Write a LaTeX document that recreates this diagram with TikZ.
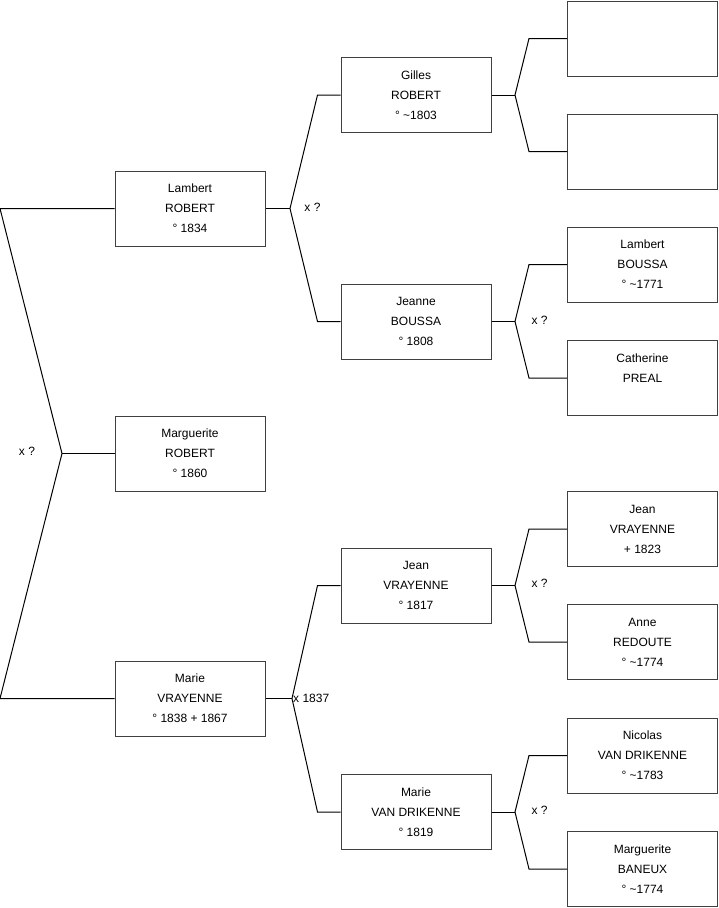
\documentclass[tikz,border=0pt]{standalone}
\usepackage{fontspec}
\setmainfont{Liberation Sans}
\usetikzlibrary{positioning,calc}
\tikzset{
  person/.style={draw=black!75, fill=white, line width=1pt, minimum width=150pt, minimum height=75pt, inner sep=0pt, align=center, font=\fontsize{12}{20}\selectfont},
  link/.style={draw=black, line width=1pt},
  union/.style={font=\fontsize{12}{14}\selectfont, inner sep=0pt}
}

\begin{document}
\begin{tikzpicture}[x=1pt, y=-1pt]
  \useasboundingbox (0,0) rectangle (719,908);

  % generation 1
  \node[person] (lambert) at (190,208.5) {Lambert\\ROBERT\\° 1834};
  \node[person] (marguerite) at (190,453.5) {Marguerite\\ROBERT\\° 1860};
  \node[person] (marie) at (190,698.5) {Marie\\VRAYENNE\\° 1838 + 1867};

  % generation 2
  \node[person] (gilles) at (416,95) {Gilles\\ROBERT\\° \textasciitilde1803};
  \node[person] (jeanne) at (416,321.5) {Jeanne\\BOUSSA\\° 1808};
  \node[person] (jean) at (416,585.5) {Jean\\VRAYENNE\\° 1817};
  \node[person] (mariev) at (416,812) {Marie\\VAN DRIKENNE\\° 1819};

  % generation 3
  \node[person] (e1) at (642.5,38.5) {};
  \node[person] (e2) at (642.5,151.5) {};
  \node[person] (lamberb) at (642.5,264.5) {Lambert\\BOUSSA\\° \textasciitilde1771};
  \node[person] (cather) at (642.5,378) {Catherine\\PREAL\\\mbox{}};
  \node[person] (jeanv) at (642.5,529) {Jean\\VRAYENNE\\+ 1823};
  \node[person] (anne) at (642.5,642) {Anne\\REDOUTE\\° \textasciitilde1774};
  \node[person] (nicolas) at (642.5,755.5) {Nicolas\\VAN DRIKENNE\\° \textasciitilde1783};
  \node[person] (margb) at (642.5,869) {Marguerite\\BANEUX\\° \textasciitilde1774};

  % root fork
  \coordinate (a0) at (0,208.5);
  \coordinate (b0) at (0,698.5);
  \coordinate (j0) at (62,453.5);
  \draw[link] (lambert.west) -- (a0) -- (j0) -- (b0) -- (marie.west);
  \draw[link] (j0) -- (marguerite.west);
  \node[union] (u0) at (27,451.5) {x ?};

  % forks to generation 2
  \coordinate (j1) at (290,208.5);
  \coordinate (j2) at (292,698.5);
  \draw[link] (lambert.east) -- (j1);
  \draw[link] (gilles.west) -- ++(-23,0) -- (j1) -- ($(jeanne.west)+(-23,0)$) -- (jeanne.west);
  \draw[link] (marie.east) -- (j2);
  \draw[link] (jean.west) -- ++(-23,0) -- (j2) -- ($(mariev.west)+(-23,0)$) -- (mariev.west);
  \node[union] (u1) at (312.5,207) {x ?};
  \node[union, anchor=west] (u2) at (293,698) {x 1837};

  % forks to generation 3
  \coordinate (j3) at (515,95);
  \coordinate (j4) at (515,321.5);
  \coordinate (j5) at (515,585.5);
  \coordinate (j6) at (515,812);
  \draw[link] (gilles.east) -- (j3);
  \draw[link] (e1.west) -- ++(-38,0) -- (j3) -- ($(e2.west)+(-38,0)$) -- (e2.west);
  \draw[link] (jeanne.east) -- (j4);
  \draw[link] (lamberb.west) -- ++(-38,0) -- (j4) -- ($(cather.west)+(-38,0)$) -- (cather.west);
  \draw[link] (jean.east) -- (j5);
  \draw[link] (jeanv.west) -- ++(-38,0) -- (j5) -- ($(anne.west)+(-38,0)$) -- (anne.west);
  \draw[link] (mariev.east) -- (j6);
  \draw[link] (nicolas.west) -- ++(-38,0) -- (j6) -- ($(margb.west)+(-38,0)$) -- (margb.west);
  \node[union] (u4) at (539.5,320) {x ?};
  \node[union] (u5) at (539.5,583.5) {x ?};
  \node[union] (u6) at (539.5,810) {x ?};
\end{tikzpicture}
\end{document}
